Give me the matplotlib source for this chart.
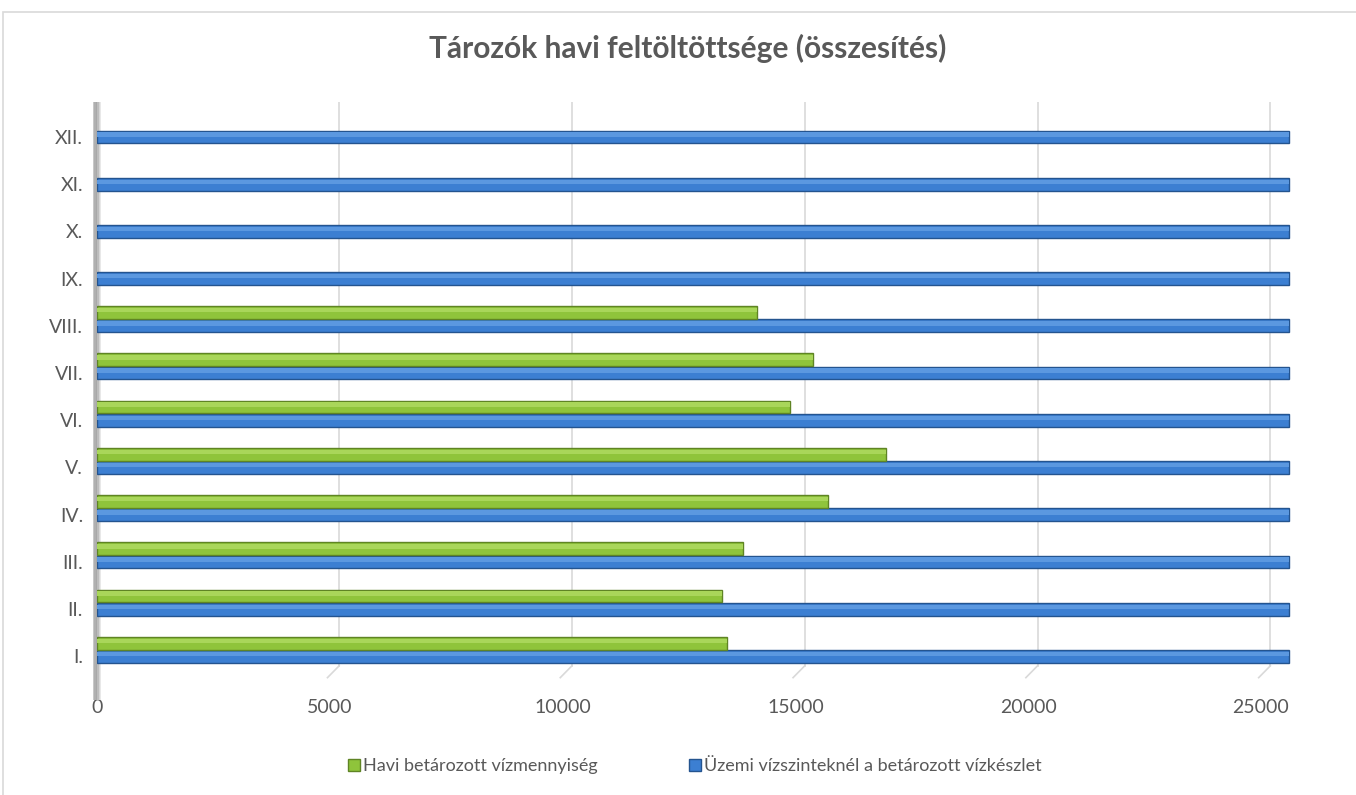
import matplotlib
matplotlib.use("Agg")
import matplotlib.pyplot as plt
from matplotlib.patches import Rectangle
from matplotlib.lines import Line2D
import numpy as np

plt.rcParams['font.family'] = ['Lato', 'DejaVu Sans']

months = ["I.", "II.", "III.", "IV.", "V.", "VI.", "VII.", "VIII.", "IX.", "X.", "XI.", "XII."]
havi = [13530, 13420, 13870, 15700, 16950, 14880, 15380, 14170, 0, 0, 0, 0]
uzemi = [25600] * 12
series_names = ["Havi betározott vízmennyiség", "Üzemi vízszinteknél a betározott vízkészlet"]
title = "Tározók havi feltöltöttsége (összesítés)"
xticks = [0, 5000, 10000, 15000, 20000, 25000]

TXT = "#595959"
BLUE = "#3c7fd2"
BLUE_D = "#24548f"
BLUE_L = "#5b98e0"
GREEN = "#8fc43b"
GREEN_D = "#5f8424"
GREEN_L = "#a9d65a"

fig = plt.figure(figsize=(13.56, 7.95), dpi=100)
fig.patches.append(Rectangle((3/1356, -0.01), 1.0, (795-12)/795 + 0.01, transform=fig.transFigure,
                             fill=False, edgecolor="#d9d9d9", linewidth=1.2))

ax = fig.add_axes([97/1356, (795-680)/795, 1196.6/1356, (680-102)/795])
ax.set_xlim(0, 25700)
ax.set_ylim(-0.5, 11.74)

y = np.arange(len(months))
h = 0.27
# blue series at category centre, green above
ax.barh(y, uzemi, height=h, color=BLUE, edgecolor=BLUE_D, linewidth=1.0, zorder=3)
ax.barh(y + 0.05, uzemi, height=h * 0.35, color=BLUE_L, linewidth=0, zorder=4)
hv = np.array(havi)
mask = hv > 0
ax.barh(y[mask] + 0.28, hv[mask], height=h, color=GREEN, edgecolor=GREEN_D, linewidth=1.0, zorder=3)
ax.barh(y[mask] + 0.33, hv[mask], height=h * 0.35, color=GREEN_L, linewidth=0, zorder=4)

# gridlines (back wall, slightly offset for the 3-D look)
for xt in xticks[1:]:
    ax.plot([xt + 200, xt + 200], [-0.2, 11.74], color="#d9d9d9", linewidth=1.2, zorder=1)
    ax.plot([xt - 50, xt + 200], [-0.45, -0.2], color="#d9d9d9", linewidth=1.2, zorder=1)

# left wall with a simple gradient
wall_cols = ["#c8c8c8", "#b0b0b0", "#a8a8a8", "#bdbdbd", "#d6d6d6", "#e8e8e8"]
w = 0.0012
for i, c in enumerate(wall_cols):
    ax.add_patch(Rectangle((-0.0035 + i * w, -0.035), w, 1.035, transform=ax.transAxes,
                           facecolor=c, edgecolor="none", zorder=2, clip_on=False))

for s in ax.spines.values():
    s.set_visible(False)
ax.set_yticks(y)
ax.set_yticklabels(months)
ax.set_xticks(xticks)
ax.set_xticklabels([str(v) for v in xticks])
ax.tick_params(axis='both', length=0, colors=TXT, labelsize=14)
ax.tick_params(axis='y', pad=10)
ax.tick_params(axis='x', pad=14)

fig.text(688/1356, 1 - 48/795, title, ha='center', va='center', fontsize=21.5, fontweight='bold', color=TXT)

handles = [Line2D([], [], marker='s', linestyle='none', markersize=8, markerfacecolor=GREEN, markeredgecolor=GREEN_D),
           Line2D([], [], marker='s', linestyle='none', markersize=8, markerfacecolor=BLUE, markeredgecolor=BLUE_D)]
fig.legend(handles, series_names, loc='center', bbox_to_anchor=(694/1356, 1 - 766/795), ncol=2, frameon=False,
           fontsize=13, labelcolor=TXT, handletextpad=0.1, columnspacing=5.0, handlelength=0.8)

fig.savefig("out.png", dpi=100)
